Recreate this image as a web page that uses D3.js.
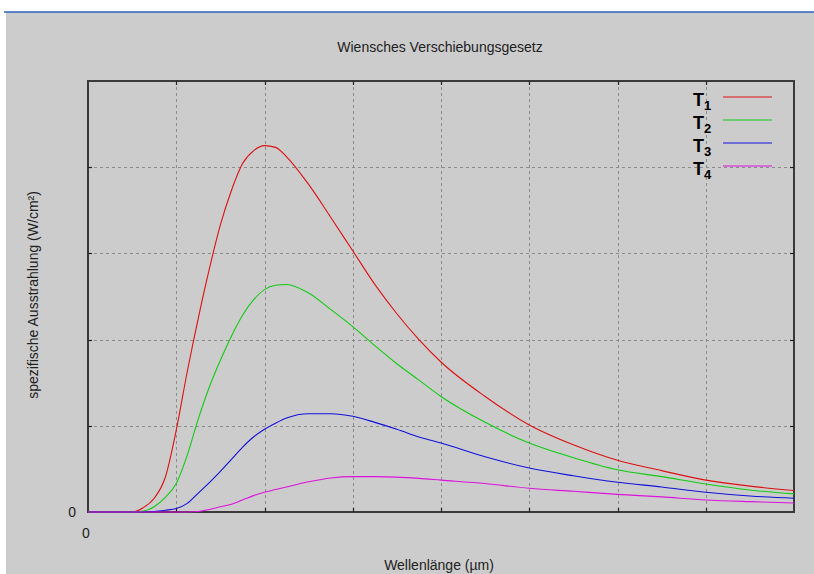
<!DOCTYPE html>
<html><head><meta charset="utf-8">
<script src="https://cdn.jsdelivr.net/npm/d3@7"></script>
<style>html,body{margin:0;padding:0;background:#fff;}svg{display:block;}</style>
</head><body>
<script>
// ---- data (x in grid units, y in grid units) ----
const wavelength = [0, 0.5, 0.625, 0.75, 0.875, 1.0, 1.125, 1.25, 1.375, 1.5, 1.625, 1.75, 1.875, 2.0, 2.125, 2.25, 2.5, 2.75, 3.0, 3.25, 3.5, 3.75, 4.0, 4.5, 5.0, 5.5, 6.0, 6.5, 7.0, 7.5, 8.0];
const T1 = [0, 0, 0.05, 0.16, 0.40, 0.95, 1.63, 2.25, 2.82, 3.33, 3.73, 4.04, 4.19, 4.25, 4.23, 4.12, 3.80, 3.42, 3.03, 2.64, 2.30, 2.00, 1.74, 1.34, 1.01, 0.78, 0.60, 0.48, 0.37, 0.30, 0.25];
const T2 = [0, 0, 0.01, 0.06, 0.17, 0.33, 0.66, 1.08, 1.45, 1.76, 2.04, 2.28, 2.46, 2.58, 2.63, 2.64, 2.54, 2.35, 2.15, 1.93, 1.72, 1.53, 1.34, 1.04, 0.80, 0.63, 0.49, 0.41, 0.325, 0.255, 0.21];
const T3 = [0, 0, 0, 0.005, 0.02, 0.04, 0.10, 0.22, 0.34, 0.47, 0.61, 0.75, 0.87, 0.96, 1.03, 1.09, 1.14, 1.14, 1.11, 1.04, 0.96, 0.87, 0.80, 0.64, 0.51, 0.42, 0.345, 0.29, 0.23, 0.186, 0.16];
const T4 = [0, 0, 0, 0, 0, 0, 0, 0.005, 0.03, 0.06, 0.09, 0.14, 0.19, 0.23, 0.26, 0.29, 0.35, 0.395, 0.41, 0.41, 0.405, 0.39, 0.37, 0.33, 0.275, 0.24, 0.205, 0.175, 0.14, 0.12, 0.105];
const seriesNames = ["1", "2", "3", "4"];
const seriesColors = ["#dd1111", "#11cc11", "#1111dd", "#dd11dd"];
const xTicks = [0, 1, 2, 3, 4, 5, 6, 7, 8];
const yTicks = [0, 1, 2, 3, 4, 5];
const xTickLabels = ["0"];
const yTickLabels = ["0"];

const W = 814, H = 574;
const svg = d3.select("body").append("svg").attr("width", W).attr("height", H);

// background
svg.append("rect").attr("x", 0).attr("y", 0).attr("width", W).attr("height", H).attr("fill", "#ffffff");
svg.append("rect").attr("x", 6).attr("y", 12).attr("width", W - 6).attr("height", H - 12).attr("fill", "#cccccc");
svg.append("line").attr("x1", 4).attr("x2", W).attr("y1", 12).attr("y2", 12).attr("stroke", "#2f5fc0").attr("stroke-width", 1.5);

const L = 88, R = 794, T = 81, B = 512;
const x = d3.scaleLinear().domain([0, 8]).range([L, R]);
const y = d3.scaleLinear().domain([0, 5]).range([B, T]);

// grid
const g = svg.append("g");
g.selectAll("line.vg").data(xTicks.slice(1, -1)).enter().append("line")
  .attr("x1", d => Math.round(x(d)) + 0.5).attr("x2", d => Math.round(x(d)) + 0.5)
  .attr("y1", T).attr("y2", B)
  .attr("stroke", "#8c8c8c").attr("stroke-width", 1).attr("stroke-dasharray", "3,3");
g.selectAll("line.hg").data(yTicks.slice(1, -1)).enter().append("line")
  .attr("y1", d => Math.round(y(d)) + 0.5).attr("y2", d => Math.round(y(d)) + 0.5)
  .attr("x1", L).attr("x2", R)
  .attr("stroke", "#8c8c8c").attr("stroke-width", 1).attr("stroke-dasharray", "3,3");

// curves
const line = d3.line().x((d, i) => x(wavelength[i])).y(d => y(d)).curve(d3.curveMonotoneX);
const all = [T1, T2, T3, T4];
// frame first (curves drawn over baseline)
svg.append("rect").attr("x", L).attr("y", T).attr("width", R - L).attr("height", B - T)
  .attr("fill", "none").attr("stroke", "#3a3a3a").attr("stroke-width", 2);
// ticks
xTicks.slice(1, -1).forEach(d => {
  const xx = Math.round(x(d)) + 0.5;
  svg.append("line").attr("x1", xx).attr("x2", xx).attr("y1", B).attr("y2", B - 4).attr("stroke", "#222").attr("stroke-width", 1.2);
  svg.append("line").attr("x1", xx).attr("x2", xx).attr("y1", T).attr("y2", T + 4).attr("stroke", "#222").attr("stroke-width", 1.2);
});
yTicks.slice(1, -1).forEach(d => {
  const yy = Math.round(y(d)) + 0.5;
  svg.append("line").attr("x1", L).attr("x2", L + 4).attr("y1", yy).attr("y2", yy).attr("stroke", "#222").attr("stroke-width", 1.2);
  svg.append("line").attr("x1", R).attr("x2", R - 4).attr("y1", yy).attr("y2", yy).attr("stroke", "#222").attr("stroke-width", 1.2);
});
all.forEach((s, i) => {
  svg.append("path").attr("d", line(s)).attr("fill", "none")
    .attr("stroke", seriesColors[i]).attr("stroke-width", 1.1);
});

// texts
const font = "'Liberation Sans', Arial, sans-serif";
svg.append("text").attr("x", 440).attr("y", 52).attr("text-anchor", "middle")
  .attr("font-family", font).attr("font-size", 14).attr("fill", "#222").text("Wiensches Verschiebungsgesetz");
svg.append("text").attr("x", 76).attr("y", y(0) + 5).attr("text-anchor", "end")
  .attr("font-family", font).attr("font-size", 14).attr("fill", "#222").text(yTickLabels[0]);
svg.append("text").attr("x", x(0) - 2).attr("y", 538).attr("text-anchor", "middle")
  .attr("font-family", font).attr("font-size", 14).attr("fill", "#222").text(xTickLabels[0]);
svg.append("text").attr("transform", "translate(38,295) rotate(-90)").attr("text-anchor", "middle")
  .attr("font-family", font).attr("font-size", 14).attr("fill", "#222").text("spezifische Ausstrahlung (W/cm²)");
svg.append("text").attr("x", 439).attr("y", 570).attr("text-anchor", "middle")
  .attr("font-family", font).attr("font-size", 14).attr("fill", "#222").text("Wellenlänge (µm)");

// legend
seriesNames.forEach((n, i) => {
  const ly = 97 + i * 23;
  const t = svg.append("text").attr("x", 693).attr("y", ly + 9)
    .attr("font-family", font).attr("font-weight", "bold").attr("font-size", 18).attr("fill", "#000");
  t.append("tspan").text("T");
  t.append("tspan").attr("font-size", 13).attr("dy", 4).text(n);
  svg.append("line").attr("x1", 723).attr("x2", 772).attr("y1", ly).attr("y2", ly)
    .attr("stroke", seriesColors[i]).attr("stroke-width", 1.2);
});
</script>
</body></html>
